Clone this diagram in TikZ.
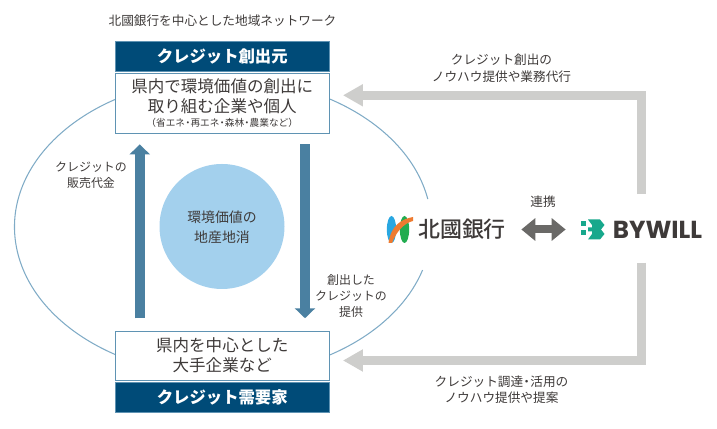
\documentclass[tikz,border=0pt]{standalone}
\usepackage{fontspec}
\setmainfont{Noto Sans CJK JP}
\newfontfamily\logofont{Poppins}
\newfontfamily\banklogofont{Noto Sans CJK JP Medium}
\usetikzlibrary{arrows.meta}
\usetikzlibrary{calc}
\definecolor{navy}{HTML}{004B78}
\definecolor{edgeblue}{HTML}{5F93B3}
\definecolor{ringblue}{HTML}{7FABC6}
\definecolor{shaftblue}{HTML}{4A80A1}
\definecolor{discblue}{HTML}{A3D0ED}
\definecolor{railgray}{HTML}{CECECC}
\definecolor{linkgray}{HTML}{6A6967}
\definecolor{inkgray}{HTML}{3E3A39}
\definecolor{bywillteal}{HTML}{17A88C}
\definecolor{bankblue}{HTML}{29A7E1}
\definecolor{bankgreen}{HTML}{22AC50}
\definecolor{bankorange}{HTML}{EE7B30}
\newcommand{\middot}{\kern-.22em・\kern-.22em}
\tikzset{headbox/.style={draw=edgeblue, fill=navy, text=white, minimum width=4.29cm, inner sep=0pt, font=\fontsize{9.3}{10}\selectfont\bfseries}}
\tikzset{bodybox/.style={draw=edgeblue, line width=0.5pt, fill=white, minimum width=4.29cm, inner sep=0pt, align=center, text=inkgray}}
\tikzset{label/.style={align=center, text=inkgray, inner sep=0pt, font=\fontsize{7.2}{9.1}\selectfont}}
\tikzset{sidelabel/.style={label, font=\fontsize{6.8}{9}\selectfont}}
\tikzset{flowarrow/.style={draw=shaftblue, line width=0.21cm, -{Triangle[length=0.2cm, width=0.4cm]}}}
\tikzset{railarrow/.style={draw=railgray, line width=0.19cm, line join=miter, -{Triangle[length=0.4cm, width=0.42cm]}}}
\begin{document}
\begin{tikzpicture}
\useasboundingbox (0, 0) rectangle (14.34, 8.58);

\coordinate (ringC) at (4.46, 4.04);
\draw[ringblue, line width=0.6pt] ([shift={(10.8:4.17cm and 2.98cm)}]ringC) arc[start angle=10.8, end angle=343.2, x radius=4.17, y radius=2.98];

\node[label] (title) at (4.45, 8.16) {北國銀行を中心とした地域ネットワーク};

\node[headbox, minimum height=0.6cm] (sourceHead) at (4.445, 7.46) {クレジット創出元};
\node[bodybox, minimum height=1.2cm] (source) at (4.445, 6.51) {};
\node[label, font=\fontsize{9.4}{11.2}\selectfont] (sourceText) at (4.445, 6.65) {県内で環境価値の創出に\\取り組む企業や個人};
\node[label, font=\fontsize{5.5}{6}\selectfont] (sourceNote) at (4.445, 6.125) {（省エネ\middot 再エネ\middot 森林\middot 農業など）};

\node[bodybox, minimum height=0.98cm, font=\fontsize{9.4}{11.4}\selectfont] (demand) at (4.445, 1.47) {県内を中心とした\\大手企業など};
\node[headbox, minimum height=0.586cm] (demandHead) at (4.445, 0.634) {クレジット需要家};

\node[circle, fill=discblue, minimum size=2.5cm, inner sep=0pt] (disc) at (4.44, 4.05) {};
\node[label, font=\fontsize{7.9}{11.4}\selectfont] (discText) at (4.44, 4.04) {環境価値の\\地産地消};

\draw[flowarrow, shorten <=0.246cm, shorten >=0.21cm] ([xshift=-1.65cm]demand.north) -- ([xshift=-1.65cm]source.south);
\draw[flowarrow, shorten <=0.21cm, shorten >=0.246cm] ([xshift=1.655cm]source.south) -- ([xshift=1.655cm]demand.north);

\node[sidelabel] (payLabel) at (1.82, 5.08) {クレジットの\\販売代金};
\node[sidelabel] (supplyLabel) at (7.02, 2.66) {創出した\\クレジットの\\提供};

% logos
\node[inner sep=0pt, text=inkgray, font=\banklogofont\fontsize{12.5}{14}\selectfont, minimum width=1.76cm, minimum height=0.4cm] (hokkoku) at (9.24, 3.99) {北國銀行};
\fill[bankblue] (7.83, 3.99) ellipse (0.093 and 0.27);
\fill[bankgreen] (8.09, 3.99) ellipse (0.093 and 0.27);
\fill[bankorange] (7.77, 3.72) .. controls (7.82, 4.08) and (8.04, 4.2) .. (8.26, 4.24) -- (8.26, 4.16) .. controls (8.1, 4.12) and (7.94, 3.98) .. (7.84, 3.72) -- cycle;

\node[inner sep=0pt, text=inkgray, font=\logofont\fontsize{14}{15}\selectfont\bfseries, minimum width=1.78cm, minimum height=0.4cm] (bywill) at (13.15, 3.99) {BYWILL};
\node[inner sep=0pt, minimum width=0.46cm, minimum height=0.4cm] (bywillMark) at (11.85, 3.99) {};
\fill[bywillteal] (11.76, 4.19) -- (12.0, 4.19) -- (12.09, 4.08) -- (12.02, 3.99) -- (12.09, 3.9) -- (12.0, 3.79) -- (11.76, 3.79) -- (11.84, 3.9) -- (11.84, 3.95) -- (11.76, 3.95) -- (11.76, 4.03) -- (11.84, 4.03) -- (11.84, 4.08) -- cycle;
\fill[bywillteal] (11.62, 4.16) rectangle (11.72, 4.06);
\fill[bywillteal] (11.62, 3.98) rectangle (11.72, 3.88);

\node[label] (linkLabel) at (10.86, 4.54) {連携};
\draw[linkgray, line width=0.16cm, {Triangle[length=0.28cm, width=0.44cm]}-{Triangle[length=0.28cm, width=0.44cm]}, shorten <=0.3cm, shorten >=0.3cm] (hokkoku.east) -- (bywillMark.west);

\draw[railarrow, shorten <=0.5cm, shorten >=0.26cm] ([xshift=-0.316cm]bywill.north) |- ([yshift=0.164cm]source.east);
\draw[railarrow, shorten <=0.454cm, shorten >=0.26cm] ([xshift=-0.316cm]bywill.south) |- ([yshift=-0.1cm]demand.east);

\node[label, font=\fontsize{7.2}{9.7}\selectfont] (topLabel) at (10.03, 7.21) {クレジット創出の\\ノウハウ提供や業務代行};
\node[label] (bottomLabel) at (10.03, 0.79) {クレジット調達\middot 活用の\\ノウハウ提供や提案};

\end{tikzpicture}
\end{document}
